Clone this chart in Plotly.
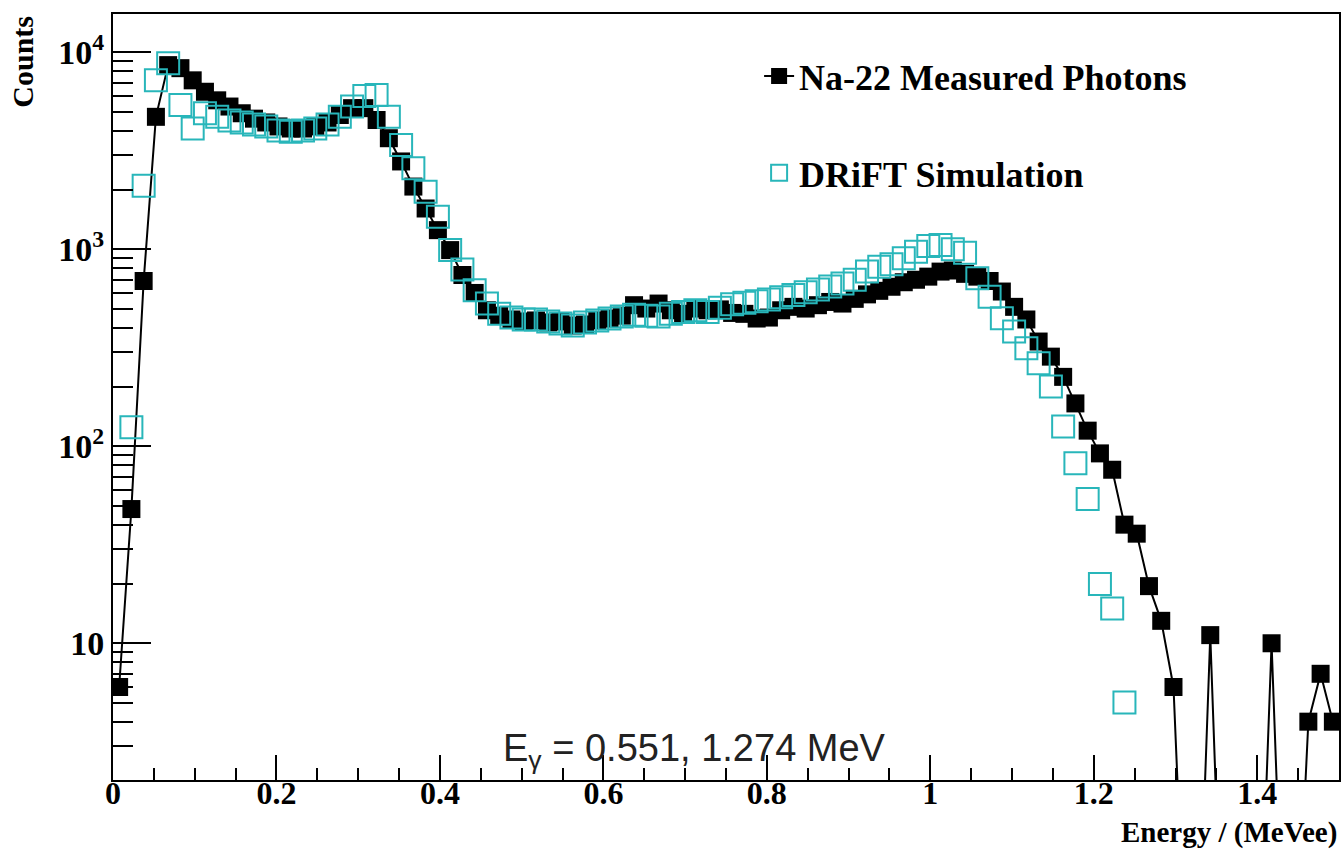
import plotly.graph_objects as go

# ---------------- data ----------------
bin_width = 0.015          # MeVee, 100 bins from 0 to 1.5
n_bins = 100
energy = [round((k + 0.5) * bin_width, 4) for k in range(n_bins)]

na22_measured = [
    6, 48, 690, 4700, 8600, 8300, 7200, 6300, 5700, 5300,
    4900, 4600, 4400, 4200, 4100, 4100, 4200, 4400, 4800, 5200,
    5200, 4530, 3660, 2790, 2080, 1610, 1250, 990, 740, 600,
    490, 460, 440, 430, 435, 425, 430, 410, 415, 435,
    445, 460, 520, 500, 530, 490, 470, 500, 490, 495,
    475, 470, 445, 450, 490, 510, 500, 520, 540, 530,
    560, 590, 615, 645, 680, 700, 726, 770, 780, 750,
    726, 690, 610, 510, 440, 340, 285, 225, 165, 120,
    92, 76, 40, 36, 19.5, 13, 6, 0, 0, 11,
    0, 0, 0, 0, 10, 0, 0, 4, 7, 4,
]

drift_simulation = [
    None, 125, 2100, 7200, 8800, 5400, 4100, 4900, 4700, 4500,
    4400, 4300, 4200, 4000, 3950, 4000, 4100, 4300, 4700, 5300,
    6000, 6070, 4710, 3380, 2580, 1960, 1460, 990, 790, 620,
    530, 470, 450, 440, 440, 430, 420, 410, 425, 435,
    445, 455, 465, 460, 455, 470, 480, 490, 480, 505,
    525, 535, 545, 555, 570, 585, 605, 625, 646, 670,
    700, 770, 816, 840, 900, 970, 1040, 1051, 1000, 960,
    713, 574, 446, 382, 314, 264, 201, 126, 82, 54,
    20, 15, 5, None, None, None, None, None, None, None,
    None, None, None, None, None, None, None, None, None, None,
]

y_tick_vals = [10, 100, 1000, 10000]
y_tick_text = ["10", "10<sup>2</sup>", "10<sup>3</sup>", "10<sup>4</sup>"]
y_minor_vals = [m * 10 ** e for e in range(0, 4) for m in range(2, 10)]

# empty bins are drawn at a floor below the log axis (drop lines as in ROOT)
ZERO_FLOOR = 0.2
na22_drawn = [v if v > 0 else ZERO_FLOOR for v in na22_measured]

# ---------------- styling ----------------
SERIF = "Liberation Serif"
SANS = "Liberation Sans"
CYAN = "rgb(40,182,186)"

fig = go.Figure()

fig.add_trace(go.Scatter(
    x=energy, y=na22_drawn, mode="lines+markers",
    name="Na-22 Measured Photons", legendgroup="meas",
    line=dict(color="black", width=2),
    marker=dict(symbol="square", size=18, color="black"),
))

fig.add_trace(go.Scatter(
    x=energy, y=drift_simulation, mode="markers",
    name="DRiFT Simulation", legendgroup="sim",
    marker=dict(symbol="square-open", size=22, color=CYAN,
                line=dict(width=2, color=CYAN)),
))

fig.update_layout(
    width=1343, height=851, autosize=False,
    margin=dict(l=113, r=2, t=14, b=71),
    paper_bgcolor="white", plot_bgcolor="white",
    showlegend=True,
    legend=dict(x=0.527, y=0.958, xanchor="left", yanchor="top",
                bgcolor="rgba(0,0,0,0)", tracegroupgap=47,
                font=dict(family=SERIF, size=36, color="black", weight="bold")),
    xaxis=dict(
        range=[0, 1.5], tick0=0, dtick=0.2,
        showline=True, mirror=True, linecolor="black", linewidth=2,
        ticks="inside", ticklen=25, tickwidth=2, tickcolor="black",
        showgrid=False, zeroline=False, ticklabelstandoff=-16,
        tickfont=dict(family=SERIF, size=32, color="black", weight="bold"),
        minor=dict(dtick=0.05, tick0=0, ticks="inside", ticklen=12,
                   tickwidth=2, tickcolor="black", showgrid=False),
    ),
    yaxis=dict(
        type="log", range=[0.306, 4.194],
        tickmode="array", tickvals=y_tick_vals, ticktext=y_tick_text,
        showline=True, mirror=True, linecolor="black", linewidth=2,
        ticks="inside", ticklen=38, tickwidth=2, tickcolor="black",
        showgrid=False, zeroline=False,
        tickfont=dict(family=SERIF, size=34, color="black", weight="bold"),
        minor=dict(tickmode="array", tickvals=y_minor_vals, ticks="inside",
                   ticklen=20, tickwidth=2, tickcolor="black", showgrid=False),
    ),
)

fig.add_annotation(
    text="Counts", textangle=-90, showarrow=False,
    xref="paper", yref="paper", x=-0.0745, y=1.0, xanchor="center", yanchor="top",
    font=dict(family=SERIF, size=30, color="black", weight="bold"),
)
fig.add_annotation(
    text="Energy / (MeVee)", showarrow=False,
    xref="paper", yref="paper", x=1.0, y=-0.068, xanchor="right", yanchor="middle",
    font=dict(family=SERIF, size=29, color="black", weight="bold"),
)
fig.add_annotation(
    text="E<sub>γ</sub> = 0.551, 1.274 MeV", showarrow=False,
    xref="paper", yref="paper", x=0.474, y=0.038, xanchor="center", yanchor="middle",
    font=dict(family=SANS, size=38, color="#222222"),
)

fig.write_html("out.html")
